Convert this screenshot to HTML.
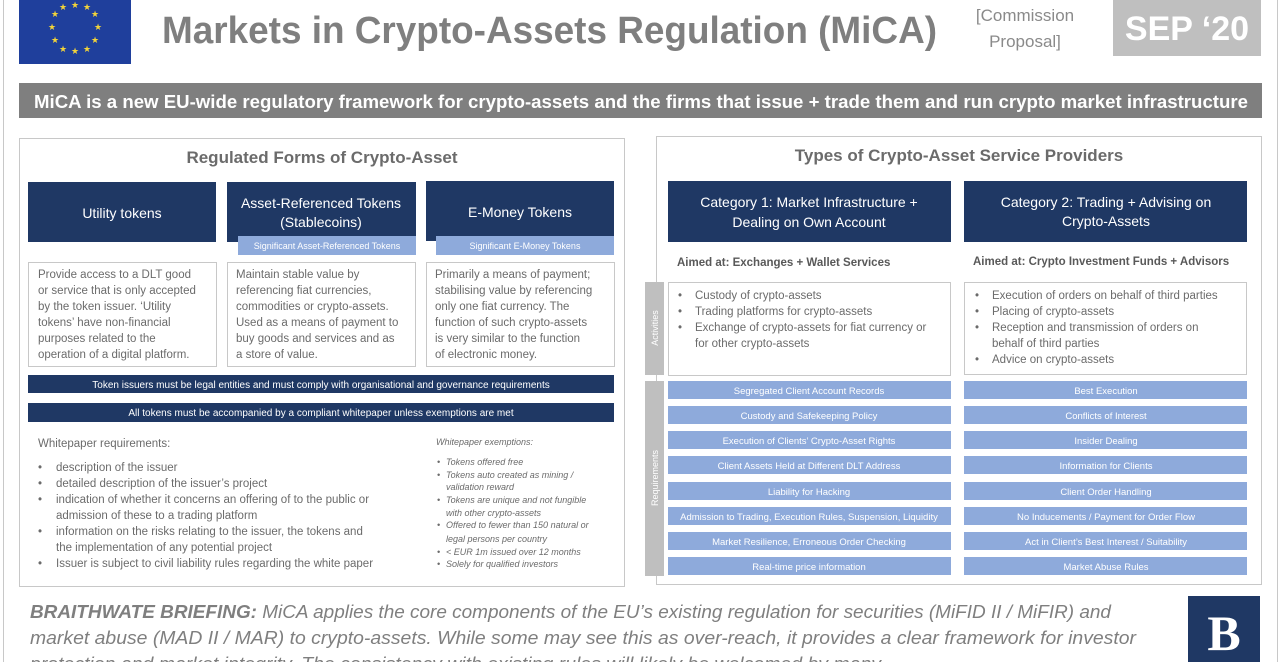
<!DOCTYPE html>
<html><head><meta charset="utf-8"><style>
html,body{margin:0;padding:0;background:#fff;width:1281px;height:662px;overflow:hidden}
svg{display:block}
text{font-family:"Liberation Sans",sans-serif}
</style></head><body>
<svg width="1281" height="662" viewBox="0 0 1281 662" xmlns="http://www.w3.org/2000/svg">
<line x1="3.5" y1="0" x2="3.5" y2="662" stroke="#c8c8c8"/>
<line x1="1277.5" y1="0" x2="1277.5" y2="662" stroke="#c8c8c8"/>
<!-- EU flag -->
<rect x="19" y="0" width="112" height="64" fill="#1f3f9c"/>
<g fill="#f2d43a" font-size="9" text-anchor="middle">
<text x="75" y="8">★</text><text x="63" y="10">★</text><text x="87" y="10">★</text>
<text x="55" y="17">★</text><text x="95" y="17">★</text>
<text x="52" y="30">★</text><text x="98" y="30">★</text>
<text x="55" y="43">★</text><text x="95" y="43">★</text>
<text x="63" y="52">★</text><text x="87" y="52">★</text><text x="75" y="54">★</text>
</g>
<text x="162" y="43" font-size="38" font-weight="bold" fill="#7f7f7f" textLength="775" lengthAdjust="spacingAndGlyphs">Markets in Crypto-Assets Regulation (MiCA)</text>
<text x="1025" y="21" font-size="17" fill="#8a8a8a" text-anchor="middle">[Commission</text>
<text x="1025" y="47" font-size="17" fill="#8a8a8a" text-anchor="middle">Proposal]</text>
<rect x="1113" y="0" width="148" height="56" fill="#bfbfbf"/>
<text x="1187" y="40" font-size="34" font-weight="bold" fill="#fff" text-anchor="middle">SEP ‘20</text>
<!-- banner -->
<rect x="19" y="83" width="1243" height="35" fill="#7f7f7f"/>
<text x="34" y="108" font-size="18" font-weight="bold" fill="#fff" textLength="1214" lengthAdjust="spacingAndGlyphs">MiCA is a new EU-wide regulatory framework for crypto-assets and the firms that issue + trade them and run crypto market infrastructure</text>

<!-- LEFT PANEL -->
<rect x="19.5" y="138.5" width="605" height="448" fill="#fff" stroke="#c8c8c8"/>
<text x="322" y="163" font-size="17" font-weight="bold" fill="#6b6b6b" text-anchor="middle">Regulated Forms of Crypto-Asset</text>
<g fill="#1f3864">
<rect x="28" y="182" width="188" height="60"/>
<rect x="227" y="182" width="189" height="60"/>
<rect x="426" y="181" width="188" height="60"/>
</g>
<g fill="#8eaadb"><rect x="238" y="236" width="178" height="19"/><rect x="436" y="236" width="178" height="19"/></g>
<g fill="#fff" font-size="14" text-anchor="middle">
<text x="122" y="218">Utility tokens</text>
<text x="321" y="208">Asset-Referenced Tokens</text>
<text x="321" y="227">(Stablecoins)</text>
<text x="520" y="217">E-Money Tokens</text>
</g>
<g fill="#fff" font-size="9" text-anchor="middle">
<text x="327" y="249">Significant Asset-Referenced Tokens</text>
<text x="525" y="249">Significant E-Money Tokens</text>
</g>
<g fill="#fff" stroke="#c8c8c8"><rect x="28.5" y="262.5" width="188" height="104"/><rect x="227.5" y="262.5" width="188" height="104"/><rect x="426.5" y="262.5" width="188" height="104"/></g>
<g fill="#6b6b6b" font-size="11.5">
<text x="38" y="278">Provide access to a DLT good</text>
<text x="38" y="294">or service that is only accepted</text>
<text x="38" y="310">by the token issuer. ‘Utility</text>
<text x="38" y="326">tokens’ have non-financial</text>
<text x="38" y="342">purposes related to the</text>
<text x="38" y="358">operation of a digital platform.</text>
<text x="236" y="278">Maintain stable value by</text>
<text x="236" y="294">referencing fiat currencies,</text>
<text x="236" y="310">commodities or crypto-assets.</text>
<text x="236" y="326">Used as a means of payment to</text>
<text x="236" y="342">buy goods and services and as</text>
<text x="236" y="358">a store of value.</text>
<text x="435" y="278">Primarily a means of payment;</text>
<text x="435" y="294">stabilising value by referencing</text>
<text x="435" y="310">only one fiat currency. The</text>
<text x="435" y="326">function of such crypto-assets</text>
<text x="435" y="342">is very similar to the function</text>
<text x="435" y="358">of electronic money.</text>
</g>
<rect x="28" y="375" width="586" height="18" fill="#1f3864"/>
<rect x="28" y="403" width="586" height="19" fill="#1f3864"/>
<g fill="#fff" font-size="10" text-anchor="middle">
<text x="321" y="388">Token issuers must be legal entities and must comply with organisational and governance requirements</text>
<text x="321" y="416">All tokens must be accompanied by a compliant whitepaper unless exemptions are met</text>
</g>
<g fill="#6b6b6b" font-size="11.5">
<text x="38" y="447">Whitepaper requirements:</text>
<text x="56" y="471">description of the issuer</text>
<text x="56" y="487">detailed description of the issuer’s project</text>
<text x="56" y="503">indication of whether it concerns an offering of to the public or</text>
<text x="56" y="519">admission of these to a trading platform</text>
<text x="56" y="535">information on the risks relating to the issuer, the tokens and</text>
<text x="56" y="551">the implementation of any potential project</text>
<text x="56" y="567">Issuer is subject to civil liability rules regarding the white paper</text>
<text x="38" y="471">•</text><text x="38" y="487">•</text><text x="38" y="503">•</text><text x="38" y="535">•</text><text x="38" y="567">•</text>
</g>
<g fill="#6b6b6b" font-size="9" font-style="italic">
<text x="436" y="445">Whitepaper exemptions:</text>
<text x="437" y="465">•</text><text x="446" y="465">Tokens offered free</text>
<text x="437" y="478">•</text><text x="446" y="478">Tokens auto created as mining /</text>
<text x="446" y="490">validation reward</text>
<text x="437" y="503">•</text><text x="446" y="503">Tokens are unique and not fungible</text>
<text x="446" y="516">with other crypto-assets</text>
<text x="437" y="528">•</text><text x="446" y="528">Offered to fewer than 150 natural or</text>
<text x="446" y="542">legal persons per country</text>
<text x="437" y="555">•</text><text x="446" y="555">&lt; EUR 1m issued over 12 months</text>
<text x="437" y="567">•</text><text x="446" y="567">Solely for qualified investors</text>
</g>

<!-- RIGHT PANEL -->
<rect x="656.5" y="136.5" width="605" height="448" fill="#fff" stroke="#c8c8c8"/>
<text x="959" y="161" font-size="17" font-weight="bold" fill="#6b6b6b" text-anchor="middle">Types of Crypto-Asset Service Providers</text>
<rect x="668" y="181" width="283" height="61" fill="#1f3864"/>
<rect x="964" y="181" width="283" height="61" fill="#1f3864"/>
<g fill="#fff" font-size="14" text-anchor="middle">
<text x="809" y="207">Category 1: Market Infrastructure +</text>
<text x="809" y="227">Dealing on Own Account</text>
<text x="1106" y="207">Category 2: Trading + Advising on</text>
<text x="1106" y="226">Crypto-Assets</text>
</g>
<g fill="#595959" font-size="11.5" font-weight="bold">
<text x="677" y="266">Aimed at: Exchanges + Wallet Services</text>
<text x="973" y="265">Aimed at: Crypto Investment Funds + Advisors</text>
</g>
<rect x="645" y="282" width="19" height="93" fill="#bfbfbf"/>
<rect x="645" y="381" width="19" height="195" fill="#bfbfbf"/>
<text transform="translate(658,328) rotate(-90)" font-size="9" fill="#fff" text-anchor="middle">Activities</text>
<text transform="translate(658,478) rotate(-90)" font-size="9" fill="#fff" text-anchor="middle">Requirements</text>
<g fill="#fff" stroke="#c8c8c8"><rect x="668.5" y="282.5" width="282" height="93"/><rect x="964.5" y="282.5" width="282" height="92"/></g>
<g fill="#6b6b6b" font-size="11.5">
<text x="678" y="299">•</text><text x="695" y="299">Custody of crypto-assets</text>
<text x="678" y="315">•</text><text x="695" y="315">Trading platforms for crypto-assets</text>
<text x="678" y="331">•</text><text x="695" y="331">Exchange of crypto-assets for fiat currency or</text>
<text x="695" y="347">for other crypto-assets</text>
<text x="975" y="299">•</text><text x="992" y="299">Execution of orders  on behalf of third parties</text>
<text x="975" y="315">•</text><text x="992" y="315">Placing of crypto-assets</text>
<text x="975" y="331">•</text><text x="992" y="331">Reception and transmission of orders on</text>
<text x="992" y="347">behalf of third parties</text>
<text x="975" y="363">•</text><text x="992" y="363">Advice on crypto-assets</text>
</g>
<g fill="#8eaadb">
<rect x="668" y="381" width="283" height="18"/><rect x="964" y="381" width="283" height="18"/>
<rect x="668" y="406" width="283" height="18"/><rect x="964" y="406" width="283" height="18"/>
<rect x="668" y="431" width="283" height="18"/><rect x="964" y="431" width="283" height="18"/>
<rect x="668" y="456" width="283" height="18"/><rect x="964" y="456" width="283" height="18"/>
<rect x="668" y="482" width="283" height="18"/><rect x="964" y="482" width="283" height="18"/>
<rect x="668" y="507" width="283" height="18"/><rect x="964" y="507" width="283" height="18"/>
<rect x="668" y="532" width="283" height="18"/><rect x="964" y="532" width="283" height="18"/>
<rect x="668" y="557" width="283" height="18"/><rect x="964" y="557" width="283" height="18"/>
</g>
<g fill="#fff" font-size="9.5" text-anchor="middle">
<text x="809" y="394">Segregated Client Account Records</text>
<text x="809" y="419">Custody and Safekeeping Policy</text>
<text x="809" y="444">Execution of Clients’ Crypto-Asset Rights</text>
<text x="809" y="469">Client Assets Held at Different DLT Address</text>
<text x="809" y="495">Liability for Hacking</text>
<text x="809" y="520">Admission to Trading, Execution Rules, Suspension, Liquidity</text>
<text x="809" y="545">Market Resilience, Erroneous Order Checking</text>
<text x="809" y="570">Real-time price information</text>
<text x="1106" y="394">Best Execution</text>
<text x="1106" y="419">Conflicts of Interest</text>
<text x="1106" y="444">Insider Dealing</text>
<text x="1106" y="469">Information for Clients</text>
<text x="1106" y="495">Client Order Handling</text>
<text x="1106" y="520">No Inducements / Payment for Order Flow</text>
<text x="1106" y="545">Act in Client’s Best Interest / Suitability</text>
<text x="1106" y="570">Market Abuse Rules</text>
</g>

<!-- bottom -->
<g fill="#7f7f7f" font-size="18" font-style="italic">
<text x="30" y="618" textLength="1081" lengthAdjust="spacingAndGlyphs"><tspan font-weight="bold">BRAITHWATE BRIEFING:</tspan> MiCA applies the core components of the EU’s existing regulation for securities (MiFID II / MiFIR) and</text>
<text x="30" y="644" textLength="1106" lengthAdjust="spacingAndGlyphs">market abuse (MAD II / MAR) to crypto-assets.  While some may see this as over-reach, it provides a clear framework for investor</text>
<text x="30" y="670" textLength="855" lengthAdjust="spacingAndGlyphs">protection and market integrity. The consistency with existing rules will likely be welcomed by many.</text>
</g>
<rect x="1188" y="596" width="72" height="66" fill="#1f3864"/>
<text x="1224" y="650" font-family="Liberation Serif,serif" font-size="50" font-weight="bold" fill="#fff" text-anchor="middle" style="font-family:'Liberation Serif',serif">B</text>
</svg>
</body></html>
